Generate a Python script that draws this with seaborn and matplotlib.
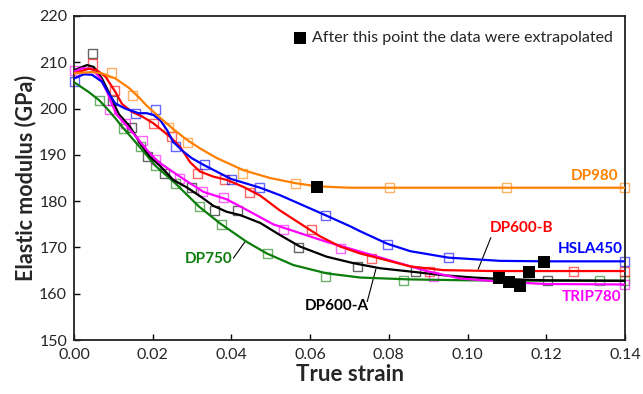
import matplotlib
matplotlib.use("Agg")
import matplotlib.pyplot as plt
import seaborn as sns

# fitted curves
dp980_curve_x = [0, 0.0046, 0.0071, 0.0105, 0.0139, 0.0164, 0.0185, 0.0219, 0.0253, 0.0286, 0.032,
                 0.0363, 0.043, 0.0498, 0.0562, 0.0617, 0.0701, 0.08, 0.10, 0.12, 0.14]
dp980_curve_y = [207.6, 207.9, 207.6, 206.5, 204.5, 202.5, 200.6, 198.0, 195.5, 193.3, 191.4,
                 189.3, 186.7, 185.0, 183.9, 183.2, 182.9, 182.9, 182.9, 182.9, 182.9]

hsla450_curve_x = [0, 0.0025, 0.0046, 0.0071, 0.0088, 0.0105, 0.013, 0.0164, 0.0185, 0.0202, 0.0219,
                   0.0236, 0.0252, 0.0278, 0.0299, 0.033, 0.0399, 0.0473, 0.0523, 0.0574, 0.0638,
                   0.0701, 0.0727, 0.0796, 0.0854, 0.0951, 0.1083, 0.12, 0.14]
hsla450_curve_y = [206.5, 207.4, 207.3, 205.8, 203.3, 201.1, 200.0, 199.0, 199.0, 198.6, 197.5,
                   195.4, 192.8, 190.7, 189.3, 187.8, 184.8, 182.9, 181.3, 179.4, 177.0,
                   174.6, 173.5, 170.8, 169.2, 167.8, 167.1, 167.0, 167.0]

dp600b_curve_x = [0, 0.0037, 0.0058, 0.008, 0.0105, 0.0122, 0.0147, 0.0173, 0.0202, 0.0244, 0.0269,
                  0.0295, 0.032, 0.0354, 0.0388, 0.043, 0.0473, 0.0523, 0.0574, 0.0625, 0.0676,
                  0.0727, 0.0778, 0.0854, 0.0938, 0.1066, 0.12, 0.14]
dp600b_curve_y = [207.6, 208.6, 208.3, 206.9, 203.6, 201.0, 199.3, 198.3, 196.8, 193.9, 191.8,
                  188.4, 186.4, 185.3, 184.6, 183.1, 181.2, 178.0, 175.2, 172.4, 170.2,
                  168.7, 167.6, 165.9, 165.1, 164.9, 164.9, 164.9]

dp600a_curve_x = [0, 0.0033, 0.005, 0.0071, 0.0088, 0.0101, 0.0114, 0.0142, 0.0168, 0.0193, 0.0219,
                  0.0252, 0.0286, 0.032, 0.0354, 0.0388, 0.0422, 0.0473, 0.0523, 0.0574, 0.0642,
                  0.071, 0.0778, 0.0854, 0.0938, 0.1015, 0.1083, 0.12, 0.14]
dp600a_curve_y = [208.3, 209.4, 209.0, 206.5, 203.6, 201.1, 198.8, 196.1, 192.5, 189.6, 187.6,
                  184.6, 183.0, 181.1, 179.0, 177.7, 177.0, 175.3, 172.7, 170.2, 168.0,
                  166.6, 165.5, 164.8, 164.0, 163.5, 163.2, 162.9, 162.8]

trip780_curve_x = [0, 0.002, 0.0046, 0.0067, 0.0084, 0.0097, 0.0109, 0.0117, 0.0151, 0.0185, 0.0202,
                   0.0219, 0.0269, 0.0329, 0.0388, 0.0439, 0.0506, 0.0574, 0.0642, 0.0727, 0.0811,
                   0.0896, 0.0981, 0.1083, 0.12, 0.14]
trip780_curve_y = [208.0, 208.7, 208.6, 206.5, 203.6, 200.8, 198.6, 197.9, 194.6, 191.1, 189.5,
                   188.2, 185.3, 182.0, 180.4, 178.1, 175.0, 173.1, 171.2, 169.1, 167.0,
                   164.9, 163.3, 162.6, 162.1, 162.0]

dp750_curve_x = [0, 0.0037, 0.0064, 0.0088, 0.0105, 0.0125, 0.0168, 0.0206, 0.0258, 0.0318, 0.0371,
                 0.0439, 0.049, 0.0557, 0.0642, 0.0727, 0.085, 0.10, 0.12, 0.14]
dp750_curve_y = [205.7, 203.6, 201.8, 199.6, 197.9, 195.8, 191.6, 187.7, 183.8, 178.8, 175.2,
                 171.2, 168.7, 166.2, 164.4, 163.5, 163.1, 162.9, 162.8, 162.8]

# measured points (open squares)
dp980_x = [0.0094, 0.0149, 0.0241, 0.0289, 0.0428, 0.0564, 0.0801, 0.110, 0.140]
dp980_y = [207.8, 202.8, 195.9, 192.7, 185.9, 183.9, 182.9, 182.9, 182.9]
hsla450_x = [0.0, 0.0155, 0.0206, 0.0258, 0.0331, 0.0401, 0.0471, 0.0638, 0.0797, 0.0951, 0.14]
hsla450_y = [205.8, 199.0, 199.8, 191.8, 187.9, 184.7, 183.0, 176.8, 170.7, 167.8, 166.9]
dp600b_x = [0.0048, 0.0103, 0.0202, 0.0247, 0.0314, 0.0382, 0.0445, 0.0604, 0.0755, 0.0903, 0.1269, 0.14]
dp600b_y = [209.8, 203.9, 196.8, 193.9, 185.9, 184.7, 181.8, 173.8, 167.7, 164.9, 164.9, 164.9]
dp600a_x = [0.0048, 0.0097, 0.0145, 0.0188, 0.0229, 0.0299, 0.0357, 0.0416, 0.0571, 0.072, 0.0867, 0.1203]
dp600a_y = [211.9, 201.7, 195.9, 189.6, 185.9, 183.0, 177.9, 177.9, 170.0, 165.8, 164.8, 162.8]
trip780_x = [0.0, 0.0091, 0.0132, 0.0175, 0.0208, 0.0269, 0.0327, 0.038, 0.0532, 0.0676, 0.0913, 0.14]
trip780_y = [208.2, 199.8, 196.8, 193.2, 188.9, 184.8, 182.0, 180.7, 173.8, 169.8, 163.7, 161.9]
dp750_x = [0.0064, 0.0125, 0.0168, 0.0206, 0.0258, 0.0318, 0.0375, 0.0491, 0.0638, 0.0837, 0.1335, 0.14]
dp750_y = [201.8, 195.8, 191.8, 187.7, 183.9, 178.8, 174.9, 168.7, 163.8, 162.8, 162.8, 162.8]

# last measured points (filled squares)
extrap_x = [0.0617, 0.1195, 0.1156, 0.1081, 0.1105, 0.1132]
extrap_y = [183.1, 166.9, 164.8, 163.3, 162.6, 161.7]

series = [
    ("DP750", dp750_curve_x, dp750_curve_y, dp750_x, dp750_y, "#0b7d0b"),
    ("DP600-A", dp600a_curve_x, dp600a_curve_y, dp600a_x, dp600a_y, "black"),
    ("TRIP780", trip780_curve_x, trip780_curve_y, trip780_x, trip780_y, "#ff00ff"),
    ("DP600-B", dp600b_curve_x, dp600b_curve_y, dp600b_x, dp600b_y, "#ff0000"),
    ("HSLA450", hsla450_curve_x, hsla450_curve_y, hsla450_x, hsla450_y, "#0000ff"),
    ("DP980", dp980_curve_x, dp980_curve_y, dp980_x, dp980_y, "#ff8000"),
]

sns.set_style("white")
plt.rcParams["font.family"] = ["Lato", "DejaVu Sans"]
plt.rcParams["xtick.direction"] = "in"
plt.rcParams["ytick.direction"] = "in"

fig, ax = plt.subplots(figsize=(6.43, 3.94), dpi=100)
fig.subplots_adjust(left=0.1151, right=0.972, top=0.9594, bottom=0.137)

for name, cx, cy, mx, my, c in series:
    sns.lineplot(x=cx, y=cy, color=c, lw=1.6, ax=ax, sort=False, estimator=None, zorder=3)
    sns.scatterplot(x=mx, y=my, marker="s", s=42, facecolor="none", edgecolor=c,
                    linewidth=1.0, alpha=0.6, ax=ax, zorder=2, clip_on=False)

sns.scatterplot(x=extrap_x, y=extrap_y, marker="s", s=75, color="black", edgecolor="black",
                linewidth=0, ax=ax, zorder=5)

# legend-like note
ax.scatter([0.0574], [215.2], marker="s", s=75, color="black", linewidth=0)
ax.text(0.0605, 215.2, "After this point the data were extrapolated", fontsize=11.5,
        va="center", ha="left")

# series labels
lab = dict(fontsize=11, fontweight="bold")
ax.text(0.1383, 185.4, "DP980", color="#ff8000", ha="right", va="center", **lab)
ax.text(0.1394, 169.7, "HSLA450", color="#0000ff", ha="right", va="center", **lab)
ax.text(0.1390, 159.2, "TRIP780", color="#ff00ff", ha="right", va="center", **lab)
ax.text(0.1137, 174.1, "DP600-B", color="#ff0000", ha="center", va="center", **lab)
ax.text(0.0343, 167.4, "DP750", color="#0b7d0b", ha="center", va="center", **lab)
ax.text(0.0667, 157.4, "DP600-A", color="black", ha="center", va="center", **lab)
ax.plot([0.1059, 0.1027], [172.1, 165.3], color="black", lw=0.8)
ax.plot([0.0405, 0.0435], [167.7, 171.3], color="black", lw=0.8)
ax.plot([0.0745, 0.0767], [158.3, 165.3], color="black", lw=0.8)

ax.set_xlim(0, 0.14)
ax.set_ylim(150, 220)
ax.set_xticks([0, 0.02, 0.04, 0.06, 0.08, 0.10, 0.12, 0.14])
ax.set_xticklabels(["0.00", "0.02", "0.04", "0.06", "0.08", "0.10", "0.12", "0.14"])
ax.set_yticks(range(150, 221, 10))
ax.tick_params(axis="both", labelsize=11.5, length=4, width=1, color="black",
               bottom=True, left=True, top=False, right=False)
ax.tick_params(axis="x", pad=6)
ax.tick_params(axis="y", pad=5)
for s in ax.spines.values():
    s.set_color("#222222")
    s.set_linewidth(1.3)
ax.set_xlabel("True strain", fontsize=16, fontweight="bold", labelpad=1)
ax.set_ylabel("Elastic modulus (GPa)", fontsize=15.5, fontweight="bold", labelpad=2)

fig.savefig("out.png", dpi=100)
